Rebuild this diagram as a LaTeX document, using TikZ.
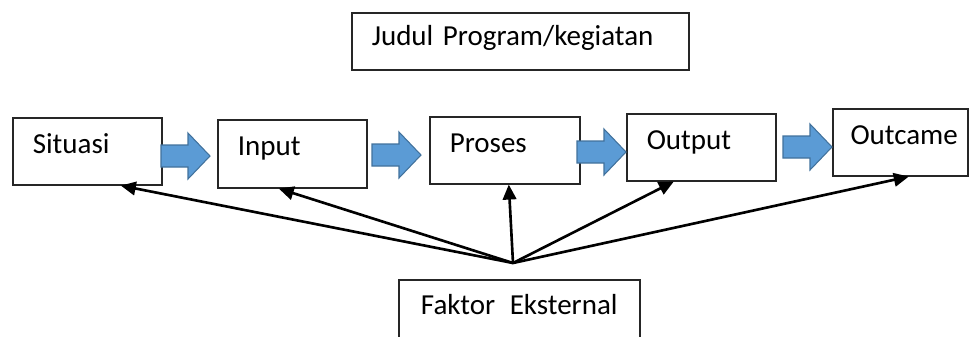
\documentclass[tikz,border=0pt]{standalone}
\usepackage{fontspec}
\setmainfont{Carlito}
\usepackage{tikz}
\usetikzlibrary{calc,arrows.meta}
\definecolor{biru}{HTML}{5B9BD5}
\definecolor{birutua}{HTML}{41719C}
\def\blokpanah(#1,#2){\draw[panahbiru] (#1,#2) ++(0,-11) -- ++(27,0) -- ++(0,-12) -- ++(22,23) -- ++(-22,23) -- ++(0,-12) -- ++(-27,0) -- cycle;}
\tikzset{
	kotak/.style={draw=black!85, line width=0.9pt, anchor=north west, inner xsep=0.4cm, inner ysep=0pt, align=left, text height=0.75em, text depth=0.5em, font=\fontsize{16.5}{19}\selectfont},
	panahbiru/.style={fill=biru, draw=birutua, line width=0.6pt},
	panah/.style={line width=1.5pt, -{Triangle[length=0.3cm,width=0.27cm]}}
}

\begin{document}
\begin{tikzpicture}[x=0.02cm, y=-0.02cm]
		%%%%% START %%%%%
		
		\useasboundingbox (0, 0) rectangle (969, 336);
		\clip (0, 0) rectangle (969, 336);
		
		\node[kotak, text width=5.94cm, minimum height=1.14cm, text depth=0.28em] (judul) at (351, 12) {Judul Program/kegiatan};
		
		\node[kotak, text width=2.18cm, minimum height=1.34cm] (sit) at (12, 117) {Situasi};
		\node[kotak, text width=2.18cm, minimum height=1.36cm] (inp) at (217, 119) {Input};
		\node[kotak, text width=2.2cm, minimum height=1.34cm] (pro) at (429, 116) {Proses};
		\node[kotak, text width=2.18cm, minimum height=1.34cm] (out) at (626, 113) {Output};
		\node[kotak, text width=2.3cm, minimum height=1.34cm, inner xsep=0.2cm, align=right] (outc) at (832, 108) {Outcame};
		
		\blokpanah(161, 156)
		\blokpanah(372, 155)
		\blokpanah(577, 152)
		\blokpanah(783, 147)
		
		\node[kotak, text width=4.42cm, minimum height=1.32cm, inner xsep=0.2cm, align=center] (faktor) at (398, 279) {Faktor\hspace{0.5em}Eksternal};
		\coordinate (pusat) at (513, 263);
		
		\draw[panah] (pusat) -- ($(sit.south)+(33.5, 0)$);
		\draw[panah] (pusat) -- ($(inp.south)+(-13.5, 0)$);
		\draw[panah] (pusat) -- ($(pro.south)+(4, 0)$);
		\draw[panah] (pusat) -- ($(out.south)+(-27.5, 0)$);
		\draw[panah] (pusat) -- ($(outc.south)+(8.5, 0)$);
		
		%%%%% END %%%%%
	\end{tikzpicture}
\end{document}
